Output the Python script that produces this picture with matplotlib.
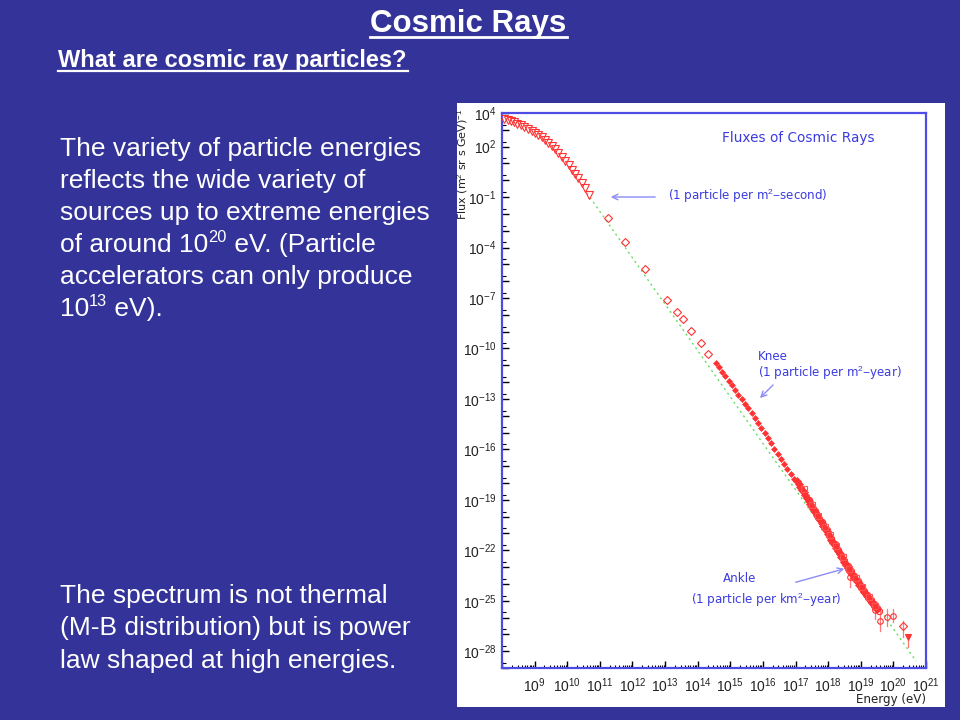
import matplotlib
matplotlib.use("Agg")
import matplotlib.pyplot as plt
import numpy as np
from matplotlib.patches import Rectangle
from matplotlib.lines import Line2D
from matplotlib.ticker import FixedLocator, FuncFormatter, NullFormatter

plt.rcParams['mathtext.fontset'] = 'custom'
plt.rcParams['mathtext.rm'] = 'Liberation Sans'
plt.rcParams['mathtext.it'] = 'Liberation Sans:italic'
plt.rcParams['mathtext.bf'] = 'Liberation Sans:bold'

# ---------------- data (log10 values) ----------------
tri_logE = [8.06, 8.17, 8.27, 8.37, 8.47, 8.57, 8.67, 8.79, 8.91, 9.01, 9.11, 9.22,
            9.32, 9.42, 9.52, 9.63, 9.73, 9.83, 9.93, 10.04, 10.14, 10.24, 10.34,
            10.45, 10.55, 10.68]
tri_logF = [3.64, 3.58, 3.51, 3.44, 3.35, 3.26, 3.15, 3.04, 2.91, 2.82, 2.71, 2.57,
            2.41, 2.22, 2.01, 1.83, 1.62, 1.38, 1.12, 0.90, 0.63, 0.40, 0.13,
            -0.15, -0.46, -0.90]

dia_logE = [11.26, 11.77, 12.37, 13.07, 13.38, 13.54, 13.79, 14.10, 14.33]
dia_logF = [-2.27, -3.66, -5.30, -7.09, -7.83, -8.22, -8.96, -9.67, -10.30]

knee_logE = [14.55, 14.65, 14.75, 14.85, 14.95, 15.05, 15.15, 15.25, 15.35, 15.45,
             15.55, 15.65, 15.75, 15.85, 15.95, 16.05, 16.15, 16.25, 16.35, 16.45,
             16.55, 16.65, 16.75, 16.85, 16.95]
knee_logF = [-10.85, -11.12, -11.39, -11.66, -11.93, -12.20, -12.47, -12.74, -13.01, -13.29,
             -13.57, -13.86, -14.15, -14.45, -14.75, -15.05, -15.35, -15.65, -15.95, -16.25,
             -16.55, -16.85, -17.15, -17.45, -17.75]

band_logE = [17.05, 17.10, 17.15, 17.20, 17.25, 17.30, 17.35, 17.40, 17.45, 17.50,
             17.55, 17.60, 17.65, 17.70, 17.75, 17.80, 17.85, 17.90, 17.95, 18.00,
             18.05, 18.10, 18.15, 18.20, 18.25, 18.30, 18.35, 18.40, 18.45, 18.50,
             18.55, 18.60, 18.65, 18.70, 18.75, 18.80, 18.85, 18.90, 18.95, 19.00,
             19.05, 19.10, 19.15, 19.20, 19.25, 19.30, 19.35, 19.40, 19.45, 19.50]
band_logF = [-17.90, -18.08, -18.22, -18.40, -18.55, -18.72, -18.90, -19.05, -19.22, -19.40,
             -19.55, -19.72, -19.88, -20.05, -20.22, -20.38, -20.55, -20.72, -20.88, -21.05,
             -21.20, -21.38, -21.55, -21.70, -21.88, -22.04, -22.20, -22.38, -22.54, -22.70,
             -22.87, -23.03, -23.18, -23.33, -23.47, -23.62, -23.76, -23.90, -24.04, -24.18,
             -24.32, -24.46, -24.60, -24.74, -24.88, -25.02, -25.15, -25.25, -25.40, -25.50]

band2_logE = [17.40, 17.60, 17.80, 17.95, 18.10, 18.20, 18.30, 18.40, 18.50, 18.60,
              18.70, 18.80, 18.90, 19.00, 19.10, 19.20, 19.30, 19.40, 19.50, 19.55]
band2_logF = [-19.00, -19.65, -20.30, -20.80, -21.30, -21.65, -22.00, -22.30, -22.65, -22.95,
              -23.25, -23.55, -23.85, -24.10, -24.40, -24.65, -24.95, -25.20, -25.45, -25.60]

band3_logE = [17.25, 17.50, 17.70, 17.90, 18.05, 18.25, 18.45, 18.65, 18.85, 19.05,
              19.25, 19.45]
band3_logF = [-18.35, -19.30, -19.95, -20.60, -21.10, -21.75, -22.40, -23.10, -23.65, -24.20,
              -24.80, -25.30]

err_logE = [18.67, 19.44, 19.60, 19.80, 19.99]
err_logF = [-23.60, -25.58, -26.18, -25.98, -25.88]
err_size = [0.6, 0.5, 0.6, 0.5, 0.4]

hi_dia_logE = [20.31]
hi_dia_logF = [-26.48]
hi_dia_err = [0.7]
hi_tri_logE = [20.46]
hi_tri_logF = [-27.17]
hi_tri_err = [0.6]

ref_logE = [10.60, 20.70]
ref_logF = [-0.75, -28.60]

x_label_decades = list(range(9, 22))
y_label_decades = [4, 2, -1, -4, -7, -10, -13, -16, -19, -22, -25, -28]

# ---------------- figure ----------------
W, H = 960, 720
BG = '#333399'
fig = plt.figure(figsize=(9.6, 7.2), dpi=100, facecolor=BG)
renderer = fig.canvas.get_renderer()

def fx(px):
    return px / W

def fy(py):
    return 1 - py / H

# white panel for the plot image
fig.add_artist(Rectangle((fx(457), fy(707)), (945 - 457) / W, (707 - 103) / H,
                         transform=fig.transFigure, facecolor='white',
                         edgecolor='none', zorder=0))

# slide title / subtitle
fig.text(fx(468), fy(32), 'Cosmic Rays', color='white', fontsize=22.5,
         fontweight='bold', family='Liberation Sans', ha='center', va='baseline')
fig.add_artist(Line2D([fx(370), fx(567)], [fy(37), fy(37)], color='white', lw=2,
                      transform=fig.transFigure))
fig.text(fx(58), fy(67), 'What are cosmic ray particles?', color='white', fontsize=17,
         fontweight='bold', family='Liberation Sans', ha='left', va='baseline')
fig.add_artist(Line2D([fx(58), fx(408)], [fy(71), fy(71)], color='white', lw=1.6,
                      transform=fig.transFigure))

BODY_FS = 19

def rich_line(x_px, y_px, pieces):
    """pieces: list of (text, is_superscript)"""
    x = x_px
    for txt, sup in pieces:
        fs = BODY_FS * 0.62 if sup else BODY_FS
        yy = y_px - (10 if sup else 0)
        t = fig.text(fx(x), fy(yy), txt, color='white', fontsize=fs,
                     family='Liberation Sans', ha='left', va='baseline')
        bb = t.get_window_extent(renderer=renderer)
        x += bb.width

body1 = [[('The variety of particle energies', False)],
         [('reflects the wide variety of', False)],
         [('sources up to extreme energies', False)],
         [('of around 10', False), ('20', True), (' eV. (Particle', False)],
         [('accelerators can only produce', False)],
         [('10', False), ('13', True), (' eV).', False)]]
for i, pieces in enumerate(body1):
    rich_line(60, 156 + 32 * i, pieces)

body2 = ['The spectrum is not thermal',
         '(M-B distribution) but is power',
         'law shaped at high energies.']
for i, line in enumerate(body2):
    rich_line(60, 603 + 32.5 * i, [(line, False)])

# ---------------- axes ----------------
ax = fig.add_axes([fx(502), fy(668), (926 - 502) / W, (668 - 113) / H])
ax.set_facecolor('white')
ax.set_xscale('log')
ax.set_yscale('log')
ax.set_xlim(1e8, 1e21)
ax.set_ylim(1e-29, 1e4)

RED = '#ff3333'
E = lambda a: 10.0 ** np.array(a)

ax.plot(E(ref_logE), E(ref_logF), color='#66dd66', lw=1.0, ls=(0, (1.5, 2.5)), zorder=1)
ax.plot(E(tri_logE), E(tri_logF), ls='none', marker='v', ms=5.5, mfc='none',
        mec=RED, mew=0.8, zorder=3)
ax.plot(E(dia_logE), E(dia_logF), ls='none', marker='D', ms=4, mfc='none',
        mec=RED, mew=0.8, zorder=3)
ax.plot(E(knee_logE), E(knee_logF), ls='none', marker='D', ms=3.0, mfc=RED,
        mec=RED, mew=0.5, zorder=3)
ax.plot(E(band_logE), E(band_logF), ls='none', marker='D', ms=3.6, mfc=RED,
        mec=RED, mew=0.5, zorder=3)
ax.plot(E(band2_logE), E(band2_logF), ls='none', marker='o', ms=4.5, mfc='none',
        mec=RED, mew=0.8, zorder=3)
ax.plot(E(band3_logE), E(band3_logF), ls='none', marker='s', ms=4, mfc='none',
        mec='#ff5555', mew=0.8, zorder=3)

for lE, lF, s in zip(err_logE, err_logF, err_size):
    ax.plot([10 ** lE] * 2, [10 ** (lF - s), 10 ** (lF + s)], color='#ff7777', lw=0.9, zorder=2)
ax.plot(E(err_logE), E(err_logF), ls='none', marker='o', ms=4, mfc='none',
        mec=RED, mew=0.8, zorder=3)
for lE, lF, s in zip(hi_dia_logE, hi_dia_logF, hi_dia_err):
    ax.plot([10 ** lE] * 2, [10 ** (lF - s), 10 ** (lF + s * 0.4)], color='#ff7777', lw=0.9, zorder=2)
ax.plot(E(hi_dia_logE), E(hi_dia_logF), ls='none', marker='D', ms=4, mfc='none',
        mec=RED, mew=0.8, zorder=3)
for lE, lF, s in zip(hi_tri_logE, hi_tri_logF, hi_tri_err):
    ax.plot([10 ** lE] * 2, [10 ** (lF - s), 10 ** lF], color='#ff7777', lw=0.9, zorder=2)
ax.plot(E(hi_tri_logE), E(hi_tri_logF), ls='none', marker='v', ms=5, mfc=RED,
        mec=RED, mew=0.8, zorder=3)

# ticks
ax.xaxis.set_major_locator(FixedLocator([10.0 ** k for k in range(8, 22)]))
ax.xaxis.set_minor_locator(FixedLocator([m * 10.0 ** k for k in range(8, 21) for m in range(2, 10)]))
ax.xaxis.set_major_formatter(FuncFormatter(
    lambda v, p: (r'$10^{%d}$' % round(np.log10(v))) if round(np.log10(v)) in x_label_decades else ''))
ax.xaxis.set_minor_formatter(NullFormatter())

ax.yaxis.set_major_locator(FixedLocator([10.0 ** k for k in range(-29, 5)]))
ax.yaxis.set_minor_locator(FixedLocator([2 * 10.0 ** k for k in range(-29, 4)]))
ax.yaxis.set_major_formatter(FuncFormatter(
    lambda v, p: (r'$10^{%d}$' % round(np.log10(v))) if round(np.log10(v)) in y_label_decades else ''))
ax.yaxis.set_minor_formatter(NullFormatter())

ax.tick_params(which='both', direction='in', color='black', top=False, right=False,
               labelsize=10, labelcolor='#222222')
ax.tick_params(axis='x', which='major', length=5, width=1.0, pad=6)
ax.tick_params(axis='x', which='minor', length=2.5, width=0.8)
ax.tick_params(axis='y', which='major', length=5, width=1.0, pad=4)
ax.tick_params(axis='y', which='minor', length=3, width=0.8)

for sp in ax.spines.values():
    sp.set_color('#4d4de6')
    sp.set_linewidth(1.6)

# annotations
BLUE = '#3b3be0'
ARROW = '#8c8cf5'
ANN_FS = 8.6
ax.text(0.70, 0.955, 'Fluxes of Cosmic Rays', transform=ax.transAxes, color=BLUE,
        fontsize=9.8, ha='center', va='center', family='DejaVu Sans')

def dat(px, py):
    return ax.transData.inverted().transform(ax.figure.transFigure.transform((fx(px), fy(py))))

ax.annotate('', xy=dat(608, 197), xytext=dat(658, 197),
            arrowprops=dict(arrowstyle='->', color=ARROW, lw=1.0))
ax.text(*dat(668, 196), r'(1 particle per m$^2$$-$second)', color=BLUE, fontsize=ANN_FS,
        ha='left', va='center', family='DejaVu Sans')

ax.text(*dat(758, 357), 'Knee', color=BLUE, fontsize=ANN_FS, ha='left', va='center',
        family='DejaVu Sans')
ax.text(*dat(758, 373), r'(1 particle per m$^2$$-$year)', color=BLUE, fontsize=ANN_FS,
        ha='left', va='center', family='DejaVu Sans')
ax.annotate('', xy=dat(758, 400), xytext=dat(775, 383),
            arrowprops=dict(arrowstyle='->', color=ARROW, lw=1.0))

ax.text(*dat(740, 579), 'Ankle', color=BLUE, fontsize=ANN_FS, ha='center', va='center',
        family='DejaVu Sans')
ax.text(*dat(766, 600), r'(1 particle per km$^2$$-$year)', color=BLUE, fontsize=ANN_FS,
        ha='center', va='center', family='DejaVu Sans')
ax.annotate('', xy=dat(847, 568), xytext=dat(793, 583),
            arrowprops=dict(arrowstyle='->', color=ARROW, lw=1.0))

fig.text(fx(926), fy(700), 'Energy (eV)', color='#222222', fontsize=8.6, ha='right',
         va='center', family='DejaVu Sans')
fig.text(fx(463), fy(164), r'Flux (m$^2$ sr s GeV)$^{-1}$', color='#222222', fontsize=8,
         rotation=90, ha='center', va='center', family='DejaVu Sans')

fig.savefig('out.png', dpi=100, facecolor=BG)
